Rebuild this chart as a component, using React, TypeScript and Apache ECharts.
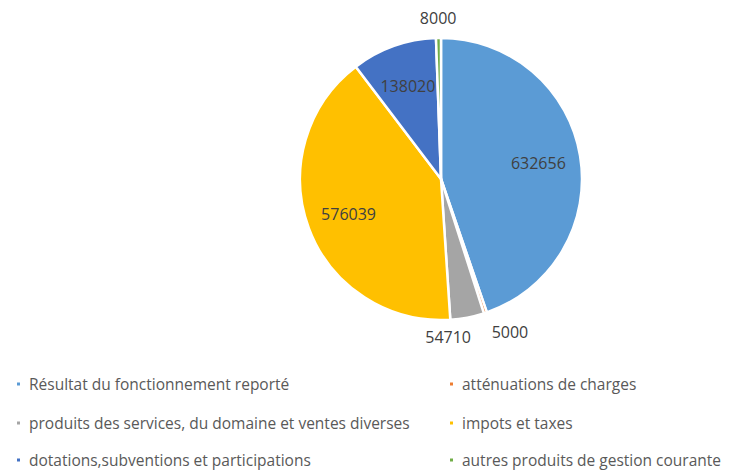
import React, { useEffect, useRef } from "react";
import * as echarts from "echarts";

const categories = [
  "Résultat du fonctionnement reporté",
  "atténuations de charges",
  "produits des services, du domaine et ventes diverses",
  "impots et taxes",
  "dotations,subventions et participations",
  "autres produits de gestion courante",
];
const values = [632656, 5000, 54710, 576039, 138020, 8000];
const colors = ["#5B9BD5", "#ED7D31", "#A5A5A5", "#FFC000", "#4472C4", "#70AD47"];
const outsideLabels = [false, true, true, false, false, true];
const labelAligns = ["center", "left", "right", "center", "center", "center"];

const CX = 441;
const CY = 179;
const R = 141;

export default function App() {
  const ref = useRef<HTMLDivElement>(null);
  useEffect(() => {
    if (!ref.current) return;
    const chart = echarts.init(ref.current, undefined, { renderer: "svg" });
    const font = "'Open Sans', 'Noto Sans', sans-serif";
    const total = values.reduce((a, b) => a + b, 0);
    const mids: number[] = [];
    let acc = 0;
    values.forEach((v) => {
      mids.push(((acc + v / 2) / total) * Math.PI * 2);
      acc += v;
    });
    const colLeft = [15, 448];
    const rowTop = [376, 415, 452];
    const legends = categories.map((name, i) => ({
      orient: "horizontal" as const,
      left: colLeft[i % 2],
      top: rowTop[Math.floor(i / 2)],
      padding: 0,
      itemWidth: 5,
      itemHeight: 5,
      icon: "rect",
      data: [name],
      textStyle: { fontFamily: font, fontSize: 15.5, color: "#595959", padding: [0, 0, 0, 3] },
    }));
    chart.setOption({
      animation: false,
      color: colors,
      legend: legends,
      series: [
        {
          type: "pie",
          center: [CX, CY],
          radius: R,
          startAngle: 90,
          clockwise: true,
          avoidLabelOverlap: false,
          itemStyle: { borderColor: "#fff", borderWidth: 2.5 },
          label: {
            show: true,
            position: "inside",
            formatter: "{c}",
            fontFamily: font,
            fontSize: 16,
            color: "#404040",
          },
          labelLine: { show: false, length: 6, length2: 0 },
          labelLayout: (p: any) => {
            const i = p.dataIndex;
            const rr = outsideLabels[i] ? R + 20 : R * 0.7;
            const a = mids[i];
            return {
              x: CX + rr * Math.sin(a),
              y: CY - rr * Math.cos(a),
              align: labelAligns[i],
              verticalAlign: "middle",
              hideOverlap: false,
            };
          },
          data: categories.map((name, i) => ({
            name,
            value: values[i],
            label: outsideLabels[i] ? { position: "outside" } : undefined,
          })),
        },
      ],
    });
    return () => chart.dispose();
  }, []);
  return (
    <div
      ref={ref}
      style={{ position: "fixed", left: 0, top: 0, width: 744, height: 470, background: "#fff" }}
    />
  );
}
